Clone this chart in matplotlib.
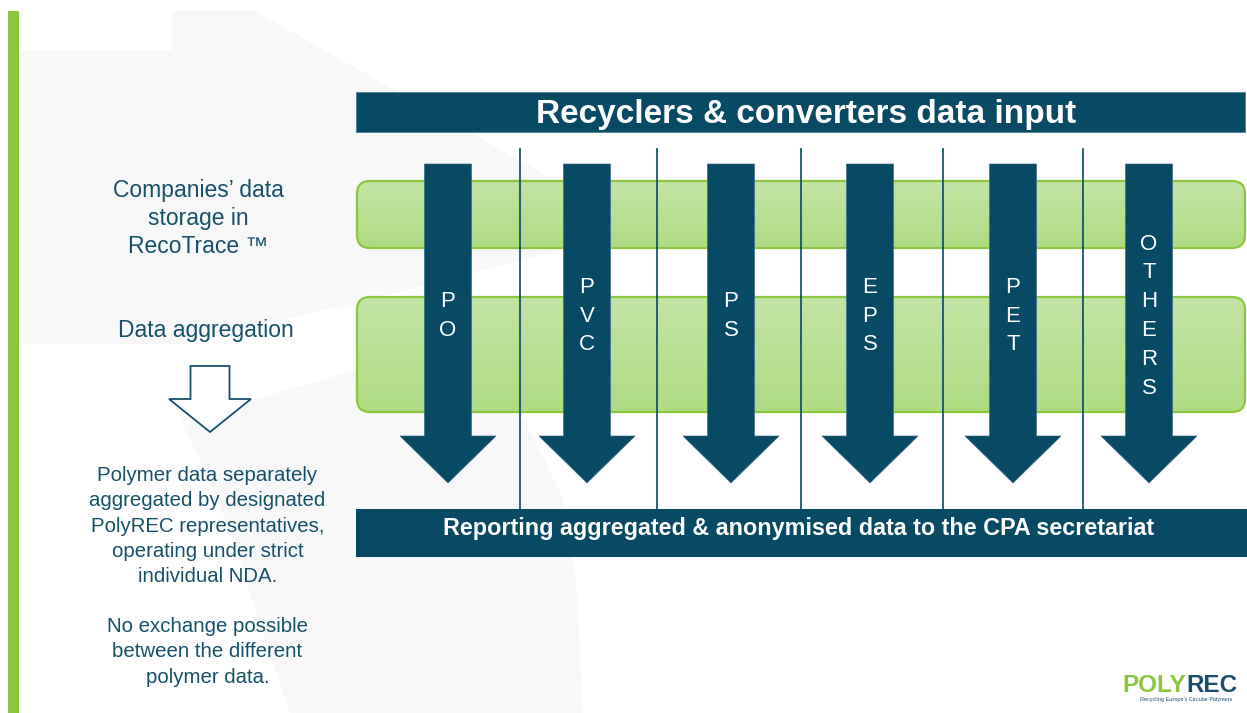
import numpy as np
import matplotlib
matplotlib.use("Agg")
import matplotlib.pyplot as plt
from matplotlib.patches import Rectangle, Polygon, FancyBboxPatch

plt.rcParams['font.family'] = ['Liberation Sans', 'DejaVu Sans']

# ---- content ----
title = "Recyclers & converters data input"
footer = "Reporting aggregated & anonymised data to the CPA secretariat"
polymers = ["PO", "PVC", "PS", "EPS", "PET", "OTHERS"]
arrow_x = [448, 587, 731, 870, 1013, 1149]
separator_x = [520, 657, 801, 943, 1083]

storage_lines = ["Companies\u2019 data", "storage in", "RecoTrace \u2122"]
aggregation_line = "Data aggregation"
note1_lines = ["Polymer data separately", "aggregated by designated",
               "PolyREC representatives,", "operating under strict",
               "individual NDA."]
note2_lines = ["No exchange possible", "between the different",
               "polymer data."]

DARK = "#084964"
TEXT = "#16506b"
GREEN = "#8cc63f"
WATERMARK = "#f8f8f8"

W, H = 1247, 713
fig = plt.figure(figsize=(W / 100, H / 100), dpi=100)
ax = fig.add_axes([0, 0, 1, 1])
ax.set_xlim(0, W)
ax.set_ylim(H, 0)
ax.axis("off")

# faint background watermark
ax.add_patch(Polygon([(19, 50), (172, 50), (172, 11), (255, 11), (560, 183),
                      (560, 250), (357, 303), (178, 344), (19, 344)],
                     closed=True, fc=WATERMARK, ec="none", zorder=0))
ax.add_patch(Polygon([(181, 420), (357, 370), (505, 330), (520, 413),
                      (545, 460), (563, 500), (576, 580), (583, 713),
                      (290, 713), (262, 630), (235, 545), (205, 470)],
                     closed=True, fc=WATERMARK, ec="none", zorder=0))

# left green accent bar
ax.add_patch(Rectangle((8, 11), 11, H - 11, fc=GREEN, ec="none", zorder=1))

# green rounded bands with vertical gradient
grad = np.linspace(0, 1, 256).reshape(-1, 1)
green_cmap = matplotlib.colors.LinearSegmentedColormap.from_list(
    "g", ["#c3e4a5", "#afdb83"])
for y0, y1 in [(181, 248), (297, 412)]:
    band = FancyBboxPatch((357, y0), 1245 - 357, y1 - y0,
                          boxstyle="round,pad=0,rounding_size=13",
                          fc="none", ec=GREEN, lw=1.6, zorder=3)
    ax.add_patch(band)
    im = ax.imshow(grad, cmap=green_cmap, aspect="auto",
                   extent=[357, 1245, y1, y0], zorder=2)
    im.set_clip_path(band)

# title and footer bars
ax.add_patch(Rectangle((356, 92), W - 356 - 2, 40, fc=DARK, ec="#4f7f96",
                       lw=0.6, zorder=4))
ax.text(806, 123, title, color="white", fontsize=24, fontweight="bold",
        ha="center", va="baseline", zorder=5)
ax.add_patch(Rectangle((356, 509), W - 356, 48, fc=DARK, ec="none", zorder=4))
ax.text(798.5, 535, footer, color="white", fontsize=16.8, fontweight="bold",
        ha="center", va="baseline", zorder=5)

# separators
for x in separator_x:
    ax.plot([x, x], [149, 509], color=DARK, lw=1.2, zorder=4)

# polymer arrows
shaft_half, head_half = 23.5, 48
top_y, head_y, tip_y = 164, 436, 483
for x, name in zip(arrow_x, polymers):
    pts = [(x - shaft_half, top_y), (x + shaft_half, top_y),
           (x + shaft_half, head_y), (x + head_half, head_y),
           (x, tip_y), (x - head_half, head_y), (x - shaft_half, head_y)]
    ax.add_patch(Polygon(pts, closed=True, fc=DARK, ec="#3c6f88", lw=0.5,
                         zorder=6))
    step = 28.8
    c = 313.5
    for i, ch in enumerate(name):
        yc = c + (i - (len(name) - 1) / 2) * step
        ax.text(x, yc + 8, ch, color="white", fontsize=16, ha="center",
                va="baseline", zorder=7)

# left explanatory text
for i, line in enumerate(storage_lines):
    ax.text(198, 197 + i * 28, line, color=TEXT, fontsize=16.5,
            ha="center", va="baseline", zorder=5)
ax.text(205.5, 337, aggregation_line, color=TEXT, fontsize=16.5,
        ha="center", va="baseline", zorder=5)

# hollow arrow
hx = 210
ax.add_patch(Polygon([(hx - 19.5, 366), (hx + 19.5, 366), (hx + 19.5, 399),
                      (hx + 41, 399), (hx, 432), (hx - 41, 399),
                      (hx - 19.5, 399)], closed=True, fc="white", ec=TEXT,
                     lw=1.3, zorder=5))

for i, line in enumerate(note1_lines):
    ax.text(207.5, 481 + i * 25.3, line, color=TEXT, fontsize=14.7,
            ha="center", va="baseline", zorder=5)
for i, line in enumerate(note2_lines):
    ax.text(207.5, 632 + i * 25.3, line, color=TEXT, fontsize=14.7,
            ha="center", va="baseline", zorder=5)

# logo
ax.text(1186, 692, "POLY", color=GREEN, fontsize=17.5, fontweight="bold",
        ha="right", va="baseline", zorder=5)
ax.text(1186, 692, "REC", color="#1c4e6c", fontsize=17.5, fontweight="bold",
        ha="left", va="baseline", zorder=5)
ax.text(1186, 701, "Recycling Europe\u2019s Circular Polymers", color="#1c4e6c",
        fontsize=4, ha="center", va="baseline", zorder=5)

fig.savefig("out.png", dpi=100)
